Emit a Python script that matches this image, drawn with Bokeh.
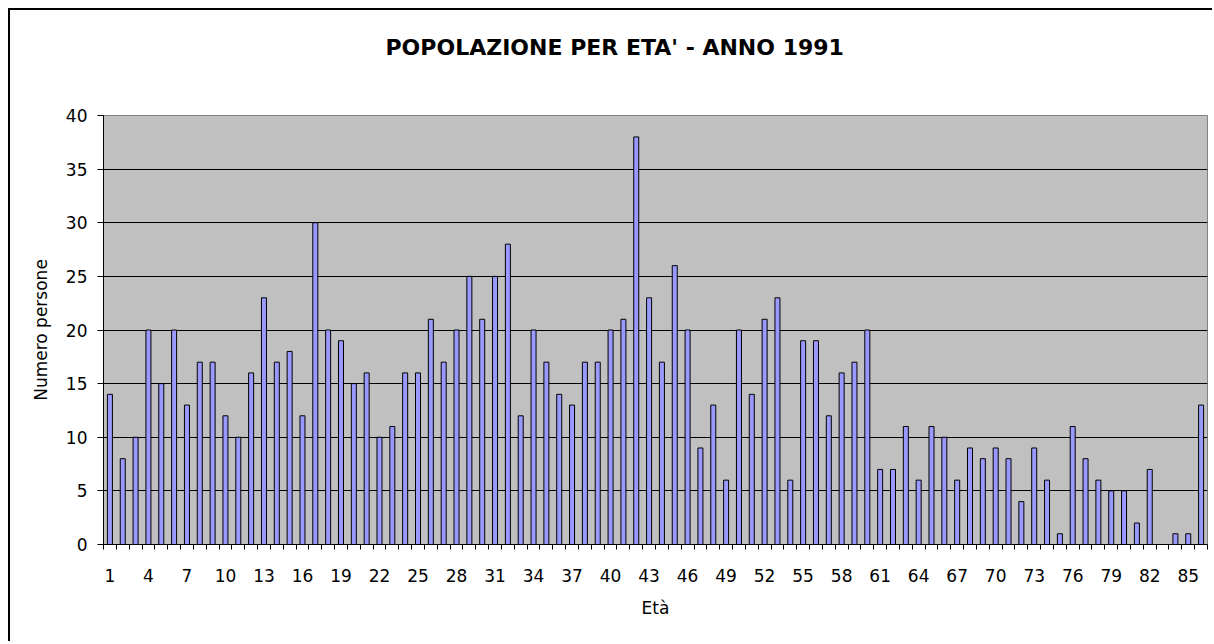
from bokeh.plotting import figure
from bokeh.models import FixedTicker, Range1d
from bokeh.embed import file_html
from bokeh.resources import INLINE

# ---- data ----
ages = list(range(1, 87))
persons = [14, 8, 10, 20, 15, 20, 13, 17, 17, 12,
           10, 16, 23, 17, 18, 12, 30, 20, 19, 15,
           16, 10, 11, 16, 16, 21, 17, 20, 25, 21,
           25, 28, 12, 20, 17, 14, 13, 17, 17, 20,
           21, 38, 23, 17, 26, 20, 9, 13, 6, 20,
           14, 21, 23, 6, 19, 19, 12, 16, 17, 20,
           7, 7, 11, 6, 11, 10, 6, 9, 8, 9,
           8, 4, 9, 6, 1, 11, 8, 6, 5, 5,
           2, 7, 0, 1, 1, 13]
label_ages = list(range(1, 87, 3))
y_ticks = [0, 5, 10, 15, 20, 25, 30, 35, 40]

title_text = "POPOLAZIONE PER ETA' - ANNO 1991"
x_title = "Età"
y_title = "Numero persone"

FONT = "DejaVu Sans"
W, H = 1204, 633

p = figure(width=W, height=H, output_backend="svg", toolbar_location=None,
           x_range=Range1d(0.5, 86.5), y_range=Range1d(0, 40),
           min_border_left=93, min_border_right=7, min_border_top=105, min_border_bottom=99)
# chart-area frame: visible left and top edges, as in the reference
p.styles = {"margin-left": "10px", "margin-top": "10px",
            "box-shadow": "-2px -2px 0px 0px black"}

p.background_fill_color = "#C0C0C0"
p.border_fill_color = "white"
p.outline_line_color = "#808080"
p.outline_line_width = 1

p.vbar(x=ages, top=persons, width=0.39, fill_color="#9999FF", line_color="black", line_width=1)

# grid
p.xgrid.grid_line_color = None
p.ygrid.ticker = FixedTicker(ticks=y_ticks[1:-1])
p.ygrid.grid_line_color = "black"
p.ygrid.grid_line_width = 1

# y axis
p.yaxis.ticker = FixedTicker(ticks=y_ticks)
p.yaxis.axis_line_color = "black"
p.yaxis.major_tick_line_color = "black"
p.yaxis.major_tick_out = 6
p.yaxis.major_tick_in = 0
p.yaxis.minor_tick_line_color = None
p.yaxis.major_label_standoff = 10
p.yaxis.major_label_text_font = FONT
p.yaxis.major_label_text_font_size = "17px"
p.yaxis.major_label_text_color = "black"
p.yaxis.axis_label = y_title
p.yaxis.axis_label_text_font = FONT
p.yaxis.axis_label_text_font_size = "17px"
p.yaxis.axis_label_text_font_style = "normal"
p.yaxis.axis_label_text_color = "black"
p.yaxis.axis_label_standoff = 12

# x axis: labels at centres, tick marks at category boundaries (minor ticks)
boundaries = [a - 0.5 for a in ages] + [ages[-1] + 0.5]
p.xaxis.ticker = FixedTicker(ticks=label_ages, minor_ticks=boundaries)
p.xaxis.axis_line_color = "black"
p.xaxis.major_tick_out = 0
p.xaxis.major_tick_in = 0
p.xaxis.major_tick_line_color = None
p.xaxis.minor_tick_line_color = "black"
p.xaxis.minor_tick_out = 5
p.xaxis.minor_tick_in = 0
p.xaxis.major_label_standoff = 19
p.xaxis.major_label_text_font = FONT
p.xaxis.major_label_text_font_size = "17px"
p.xaxis.major_label_text_color = "black"
p.xaxis.axis_label = x_title
p.xaxis.axis_label_text_font = FONT
p.xaxis.axis_label_text_font_size = "17px"
p.xaxis.axis_label_text_font_style = "normal"
p.xaxis.axis_label_text_color = "black"
p.xaxis.axis_label_standoff = 13

# title
p.title.text = title_text
p.title.align = "left"
p.title.offset = 282
p.title.standoff = 10
p.title.text_font = FONT
p.title.text_font_size = "22px"
p.title.text_font_style = "bold"
p.title.text_color = "black"
try:
    p.title.padding = dict(left=0, right=0, top=0, bottom=51)
except Exception:
    try:
        p.title.padding = (0, 0, 0, 51)
    except Exception:
        p.title.text = title_text + "\n\n"

open("out.html", "w").write(file_html(p, INLINE))
